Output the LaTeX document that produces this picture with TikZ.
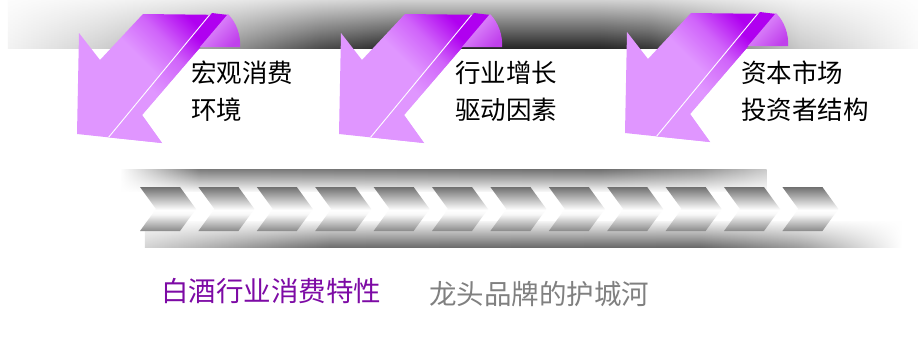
\documentclass[tikz,border=0pt]{standalone}
\usepackage{fontspec}
\newfontfamily\cjk{Noto Sans CJK SC}
\usetikzlibrary{fadings}
\definecolor{apink}{RGB}{224,150,255}
\definecolor{amid}{RGB}{208,100,250}
\definecolor{adark}{RGB}{176,0,240}
\definecolor{curlpink}{RGB}{228,156,255}
\definecolor{curldark}{RGB}{192,64,236}
\definecolor{tpurple}{RGB}{125,10,165}
\definecolor{tgray}{RGB}{128,128,128}
\pgfdeclarehorizontalshading{bandsh}{100bp}{gray(0bp)=(0.95); gray(25bp)=(0.95); gray(30.05bp)=(0.81); gray(37.7bp)=(0.54); gray(42.1bp)=(0.27); gray(46.5bp)=(0.11); gray(57.5bp)=(0.11); gray(60.2bp)=(0.17); gray(64.1bp)=(0.47); gray(68.5bp)=(0.78); gray(75bp)=(0.98); gray(100bp)=(0.98)}
\pgfdeclarehorizontalshading{topstripsh}{100bp}{gray(0bp)=(1); gray(25bp)=(1); gray(31.2bp)=(0.45); gray(62.1bp)=(0.40); gray(69.8bp)=(0.55); gray(75bp)=(0.78); gray(100bp)=(0.78)}
\pgfdeclarehorizontalshading{botstripsh}{100bp}{gray(0bp)=(0.82); gray(25bp)=(0.82); gray(37.2bp)=(0.40); gray(61.6bp)=(0.38); gray(68.2bp)=(0.6); gray(75bp)=(1); gray(100bp)=(1)}
\pgfdeclareverticalshading{chevsh}{100bp}{gray(0bp)=(0.54); gray(25bp)=(0.54); gray(44bp)=(0.97); gray(49bp)=(1); gray(75bp)=(0.44); gray(100bp)=(0.44)}
\pgfdeclareverticalshading{arrowsh}{100bp}{color(0bp)=(apink); color(25bp)=(apink); color(52bp)=(apink); color(63bp)=(amid); color(75bp)=(adark); color(100bp)=(adark)}
\pgfdeclareverticalshading{stripsh}{100bp}{color(0bp)=(apink); color(25bp)=(apink); color(42bp)=(apink); color(58bp)=(amid); color(70bp)=(adark); color(75bp)=(adark); color(100bp)=(adark)}
\begin{tikzfadingfrompicture}[name=bandfade]
\shade[top color=transparent!85, middle color=transparent!45, bottom color=transparent!0] (0,0) rectangle (2,2);
\end{tikzfadingfrompicture}
\begin{tikzfadingfrompicture}[name=downfade]
\shade[top color=transparent!0, middle color=transparent!75, bottom color=transparent!100] (0,0) rectangle (2,2);
\end{tikzfadingfrompicture}
\begin{tikzfadingfrompicture}[name=upfade]
\shade[top color=transparent!100, middle color=transparent!80, bottom color=transparent!0] (0,0) rectangle (2,2);
\end{tikzfadingfrompicture}
\tikzset{
  label/.style={font=\cjk\fontsize{25.5}{37}\selectfont, align=left, anchor=west, inner sep=0pt, text=black},
  bottomlabel/.style={font=\cjk\fontsize{27.5}{30}\selectfont, anchor=west, inner sep=0pt},
  chevron/.style={shading=chevsh},
}
\newcommand\ArrowShape{(143,14) -- (228,15) -- (142,115) -- (162,143) -- (77,134) -- (79,33) -- (100,60) -- cycle}
\newcommand\PinkArrow{%
  \shade[shading=arrowsh, shading angle=-45] \ArrowShape;
  \shade[shading=stripsh, shading angle=-40] (212,13) -- (228,15) -- (142,115) -- (162,143) -- (108,137.3) -- cycle;
  \begin{scope}
    \clip \ArrowShape;
    \draw[white, line width=0.9pt] (212,12) -- (108,138);
  \end{scope}
  \shade[top color=curlpink, bottom color=curldark, shading angle=45]
    (228,14) .. controls (236,22) and (241,35) .. (240,47) -- (200,47) -- cycle;
}
\begin{document}
\begin{tikzpicture}[x=1pt, y=-1pt]
\useasboundingbox (0,0) rectangle (919,349);
\fill[white] (0,0) rectangle (919,349);
% top band
\shade[shading=bandsh, path fading=bandfade] (8,0) rectangle (919,48);
% middle band strips
\shade[shading=topstripsh, path fading=downfade] (120,169) rectangle (767,191);
\shade[shading=botstripsh, path fading=upfade] (145,221) rectangle (903,247);
% chevrons
\foreach \i in {0,...,11}{
  \pgfmathsetmacro\xo{140+58.4*\i}
  \shade[chevron] (\xo,187) -- (\xo+40,187) -- (\xo+56,209) -- (\xo+40,231) -- (\xo,231) -- (\xo+16,209) -- cycle;
}
% arrows
\PinkArrow
\begin{scope}[shift={(262,0)}]\PinkArrow\end{scope}
\begin{scope}[shift={(548,-1)}]\PinkArrow\end{scope}
% labels
\node[label] (l1) at (191,91.5) {宏观消费\\环境};
\node[label] (l2) at (455,91.5) {行业增长\\驱动因素};
\node[label] (l3) at (741,91.5) {资本市场\\投资者结构};
\node[bottomlabel, text=tpurple] (b1) at (161,291) {白酒行业消费特性};
\node[bottomlabel, text=tgray] (b2) at (429,294) {龙头品牌的护城河};
\end{tikzpicture}
\end{document}
